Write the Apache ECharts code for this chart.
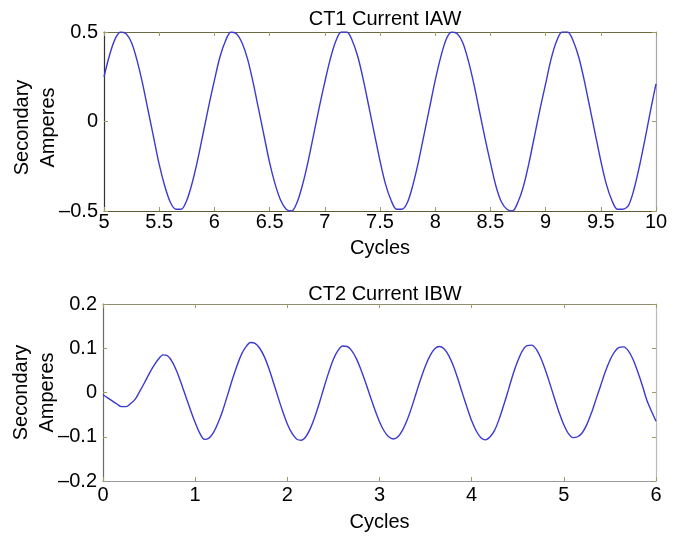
<!DOCTYPE html>
<html>
<head>
<meta charset="utf-8">
<script src="https://cdn.jsdelivr.net/npm/echarts@6/dist/echarts.min.js"></script>
<style>html,body{margin:0;padding:0;background:#fff;}#c{width:680px;height:536px;}</style>
</head>
<body>
<div id="c"></div>
<script>
// ---- Data ----
const topTitle = 'CT1 Current IAW';
const bottomTitle = 'CT2 Current IBW';
const xName = 'Cycles';
const yName = 'Secondary\nAmperes';

// CT1: samples every 0.05 cycle from 5.00 to 10.00
const topStart = 5.0;
const topStep = 0.05;
const ct1Values = [
  0.25, 0.37, 0.46, 0.50, 0.49, 0.44, 0.34, 0.21, 0.06, -0.09, -0.24, -0.36, -0.45, -0.49, -0.49, -0.44, -0.34, -0.21, -0.06, 0.09,
  0.23, 0.36, 0.45, 0.50, 0.49, 0.44, 0.35, 0.22, 0.07, -0.08, -0.23, -0.35, -0.44, -0.49, -0.50, -0.45, -0.35, -0.22, -0.07, 0.08,
  0.22, 0.35, 0.45, 0.50, 0.50, 0.45, 0.36, 0.23, 0.08, -0.07, -0.22, -0.35, -0.44, -0.49, -0.49, -0.45, -0.35, -0.22, -0.07, 0.08,
  0.23, 0.36, 0.46, 0.50, 0.49, 0.44, 0.34, 0.21, 0.06, -0.09, -0.23, -0.36, -0.45, -0.49, -0.50, -0.45, -0.36, -0.23, -0.08, 0.07,
  0.21, 0.35, 0.45, 0.50, 0.50, 0.45, 0.36, 0.23, 0.08, -0.07, -0.22, -0.35, -0.44, -0.49, -0.49, -0.47, -0.38, -0.25, -0.10, 0.06,
  0.21
];

// CT2: samples every 0.05 cycle from 0.00 to 6.00
const bottomStart = 0.0;
const bottomStep = 0.05;
const ct2Values = [
  -0.005, -0.012, -0.019, -0.026, -0.032, -0.032, -0.025, -0.015, 0.003, 0.022, 0.042, 0.060, 0.075, 0.085, 0.083, 0.070, 0.048, 0.020, -0.010, -0.040,
  -0.068, -0.092, -0.106, -0.103, -0.090, -0.068, -0.040, -0.007, 0.027, 0.058, 0.085, 0.103, 0.113, 0.111, 0.100, 0.081, 0.054, 0.022, -0.011, -0.043,
  -0.071, -0.092, -0.105, -0.108, -0.100, -0.081, -0.054, -0.022, 0.013, 0.046, 0.075, 0.095, 0.105, 0.104, 0.094, 0.076, 0.051, 0.022, -0.009, -0.039,
  -0.066, -0.087, -0.100, -0.105, -0.100, -0.085, -0.062, -0.033, 0.000, 0.032, 0.061, 0.084, 0.099, 0.104, 0.099, 0.084, 0.061, 0.031, -0.002, -0.034,
  -0.064, -0.087, -0.102, -0.107, -0.100, -0.085, -0.059, -0.027, 0.007, 0.042, 0.071, 0.094, 0.106, 0.107, 0.098, 0.078, 0.051, 0.019, -0.014, -0.046,
  -0.073, -0.093, -0.102, -0.100, -0.091, -0.072, -0.046, -0.015, 0.016, 0.047, 0.073, 0.092, 0.102, 0.103, 0.094, 0.075, 0.048, 0.017, -0.017, -0.042,
  -0.065
];

const topXTicks = { min: 5, max: 10, interval: 0.5 };
const topYTicks = { min: -0.5, max: 0.5, interval: 0.5 };
const bottomXTicks = { min: 0, max: 6, interval: 1 };
const bottomYTicks = { min: -0.2, max: 0.2, interval: 0.1 };

// ---- Build ----
function pairs(start, step, vals) {
  return vals.map((v, i) => [+(start + i * step).toFixed(4), v]);
}
const FONT = 'Liberation Sans, Arial, sans-serif';
const fmt = v => {
  let s = (Math.round(v * 1000) / 1000).toString();
  return s.replace('-', '\u2013');
};
const lineColor = '#3a3ad2';
const tickStyle = { show: true, inside: true, length: 4, lineStyle: { color: '#a09c60', width: 1 } };

function mainX(grid, t, color, nameGap, labelMargin) {
  return {
    type: 'value', gridIndex: grid, position: 'bottom', min: t.min, max: t.max, interval: t.interval,
    axisLine: { show: true, onZero: false, lineStyle: { color: color, width: 1.2 } },
    axisTick: tickStyle, splitLine: { show: false },
    axisLabel: { color: '#000', fontSize: 20, fontFamily: FONT, margin: labelMargin, formatter: fmt },
    name: xName, nameLocation: 'middle', nameGap: nameGap, nameMoveOverlap: false,
    nameTextStyle: { color: '#000', fontSize: 20, fontFamily: FONT }
  };
}
function mirrorX(grid, t, color) {
  return {
    type: 'value', gridIndex: grid, position: 'top', min: t.min, max: t.max, interval: t.interval,
    axisLine: { show: true, onZero: false, lineStyle: { color: color, width: 1.2 } },
    axisTick: tickStyle, axisLabel: { show: false }, splitLine: { show: false }
  };
}
function mainY(grid, t, color, pad) {
  return {
    type: 'value', gridIndex: grid, position: 'left', min: t.min, max: t.max, interval: t.interval,
    axisLine: { show: true, onZero: false, lineStyle: { color: color, width: 1.2 } },
    axisTick: tickStyle, splitLine: { show: false },
    axisLabel: { color: '#000', fontSize: 20, fontFamily: FONT, margin: 6, formatter: fmt },
    name: yName, nameLocation: 'middle', nameRotate: 90, nameGap: 43, nameMoveOverlap: false,
    nameTextStyle: { color: '#000', fontSize: 20, fontFamily: FONT, lineHeight: 26, align: 'center', padding: pad }
  };
}
function mirrorY(grid, t, color) {
  return {
    type: 'value', gridIndex: grid, position: 'right', min: t.min, max: t.max, interval: t.interval,
    axisLine: { show: true, onZero: false, lineStyle: { color: color, width: 1.2 } },
    axisTick: tickStyle, axisLabel: { show: false }, splitLine: { show: false }
  };
}

const chart = echarts.init(document.getElementById('c'), null, { renderer: 'canvas' });
chart.setOption({
  backgroundColor: '#fff',
  animation: false,
  title: [
    { text: topTitle, left: 380, top: 4, textAlign: 'center', textStyle: { fontSize: 20, fontWeight: 'normal', color: '#000', fontFamily: FONT } },
    { text: bottomTitle, left: 380, top: 279, textAlign: 'center', textStyle: { fontSize: 20, fontWeight: 'normal', color: '#000', fontFamily: FONT } }
  ],
  grid: [
    { left: 104, right: 24, top: 32, height: 179, containLabel: false, outerBoundsMode: 'none' },
    { left: 103, right: 24, top: 304, height: 177, containLabel: false, outerBoundsMode: 'none' }
  ],
  xAxis: [
    mainX(0, topXTicks, '#5e5c38', 27, 1),
    mirrorX(0, topXTicks, '#6b6940'),
    mainX(1, bottomXTicks, '#9a9a9a', 31, 4),
    mirrorX(1, bottomXTicks, '#8f8d70')
  ],
  yAxis: [
    mainY(0, topYTicks, '#333333', [0, 12, 0, 0]),
    mirrorY(0, topYTicks, '#a8a8a8'),
    mainY(1, bottomYTicks, '#6a6a6a', [0, 0, 0, 0]),
    mirrorY(1, bottomYTicks, '#bbbbbb')
  ],
  series: [
    { type: 'line', xAxisIndex: 0, yAxisIndex: 0, data: pairs(topStart, topStep, ct1Values), showSymbol: false, smooth: 0.3, clip: true,
      lineStyle: { color: lineColor, width: 1.4 } },
    { type: 'line', xAxisIndex: 2, yAxisIndex: 2, data: pairs(bottomStart, bottomStep, ct2Values), showSymbol: false, smooth: 0.3, clip: true,
      lineStyle: { color: lineColor, width: 1.4 } }
  ]
});
</script>
</body>
</html>
